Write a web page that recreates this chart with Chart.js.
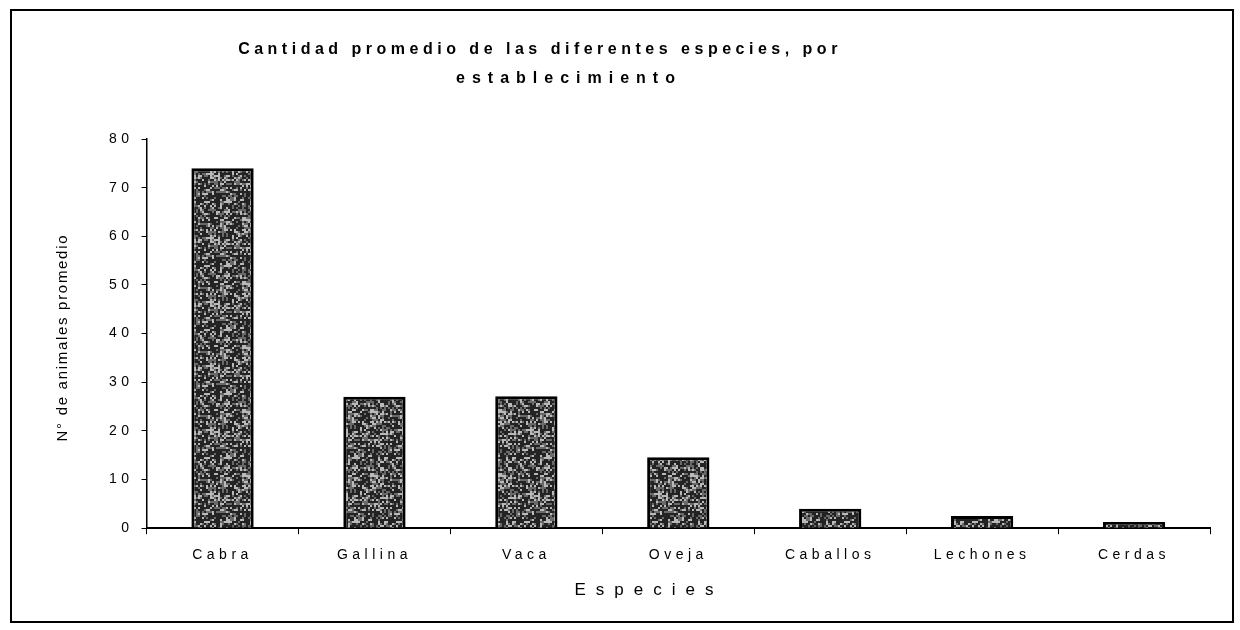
<!DOCTYPE html>
<html>
<head>
<meta charset="utf-8">
<script src="https://cdn.jsdelivr.net/npm/chart.js@4"></script>
<style>
    body { margin: 0; background: #fff; }
    #marco {
        position: absolute; left: 10px; top: 9px;
        width: 1220px; height: 610px;
        border: 2px solid #000; background: #fff;
    }
    canvas { display: block; }
</style>
</head>
<body>
<div id="marco"><canvas id="grafico" width="1220" height="610"></canvas></div>
<script>
// datos
const especies = ["Cabra", "Gallina", "Vaca", "Oveja", "Caballos", "Lechones", "Cerdas"];
const promedio = [74, 27, 27.1, 14.6, 4.0, 2.5, 1.3];
const tituloLineas = ["Cantidad promedio de las diferentes especies, por", "establecimiento"];
const tituloEjeY = "N° de animales promedio";
const tituloEjeX = "Especies";

const FUENTE = '"Liberation Sans", Arial, sans-serif';

// textura gris moteada para las barras (estilo, no datos)
function texturaBarra(ctx){
    const n = 32, s = 2;
    const c = document.createElement('canvas');
    c.width = n * s; c.height = n * s;
    const p = c.getContext('2d');
    for (let y = 0; y < n; y++){
        for (let x = 0; x < n; x++){
            const h = ((x * 73 + y * 151 + (x * y) % 17 * 29) ^ (y * 37)) % 100;
            const v = h < 50 ? 35 : (h < 78 ? 105 : 185);
            p.fillStyle = `rgb(${v},${v},${v})`;
            p.fillRect(x * s, y * s, s, s);
        }
    }
    return ctx.createPattern(c, 'repeat');
}

function texto(ctx, t, x, y, font, spacing, rot){
    ctx.save();
    ctx.letterSpacing = spacing;
    ctx.font = font;
    ctx.fillStyle = '#000';
    ctx.textAlign = 'center';
    ctx.textBaseline = 'middle';
    ctx.translate(x, y);
    if (rot) ctx.rotate(rot);
    ctx.fillText(t, 0, 0);
    ctx.restore();
}

// espaciado de letras y títulos como en el original
const espaciado = {
    id: 'espaciado',
    beforeLayout(chart){ chart.ctx.letterSpacing = '4.5px'; },
    beforeDraw(chart){ chart.ctx.letterSpacing = '4.5px'; },
    afterDraw(chart){
        const ctx = chart.ctx;
        const a = chart.chartArea;
        // título
        texto(ctx, tituloLineas[0], 528, 39, 'bold 16px ' + FUENTE, '4.5px');
        texto(ctx, tituloLineas[1], 557, 68, 'bold 16px ' + FUENTE, '7px');
        // título eje Y
        texto(ctx, tituloEjeY, 51, (a.top + a.bottom) / 2 + 4, '15px ' + FUENTE, '1.7px', -Math.PI / 2);
        // título eje X
        texto(ctx, tituloEjeX, 637, 579, '17px ' + FUENTE, '10px');
    }
};

const ctx = document.getElementById('grafico').getContext('2d');

new Chart(ctx, {
    type: 'bar',
    data: {
        labels: especies,
        datasets: [{
            label: 'Promedio',
            data: promedio,
            backgroundColor: texturaBarra(ctx),
            borderColor: '#000',
            borderWidth: 3,
            borderSkipped: 'bottom',
            categoryPercentage: 1,
            barPercentage: 0.41
        }]
    },
    options: {
        responsive: false,
        animation: false,
        layout: { padding: { left: 89, right: 22, top: 128, bottom: 44 } },
        plugins: {
            legend: { display: false },
            tooltip: { enabled: false },
            title: { display: false }
        },
        scales: {
            x: {
                grid: { display: true, drawOnChartArea: false, tickLength: 6, color: '#000', offset: true },
                border: { color: '#000', width: 2 },
                ticks: { color: '#000', padding: 13, font: { family: FUENTE, size: 14 } }
            },
            y: {
                min: 0, max: 80,
                grid: { display: true, drawOnChartArea: false, tickLength: 5, color: '#000' },
                border: { color: '#000', width: 1.5 },
                ticks: { stepSize: 10, color: '#000', padding: 8, font: { family: FUENTE, size: 14 } }
            }
        }
    },
    plugins: [espaciado]
});
</script>
</body>
</html>
